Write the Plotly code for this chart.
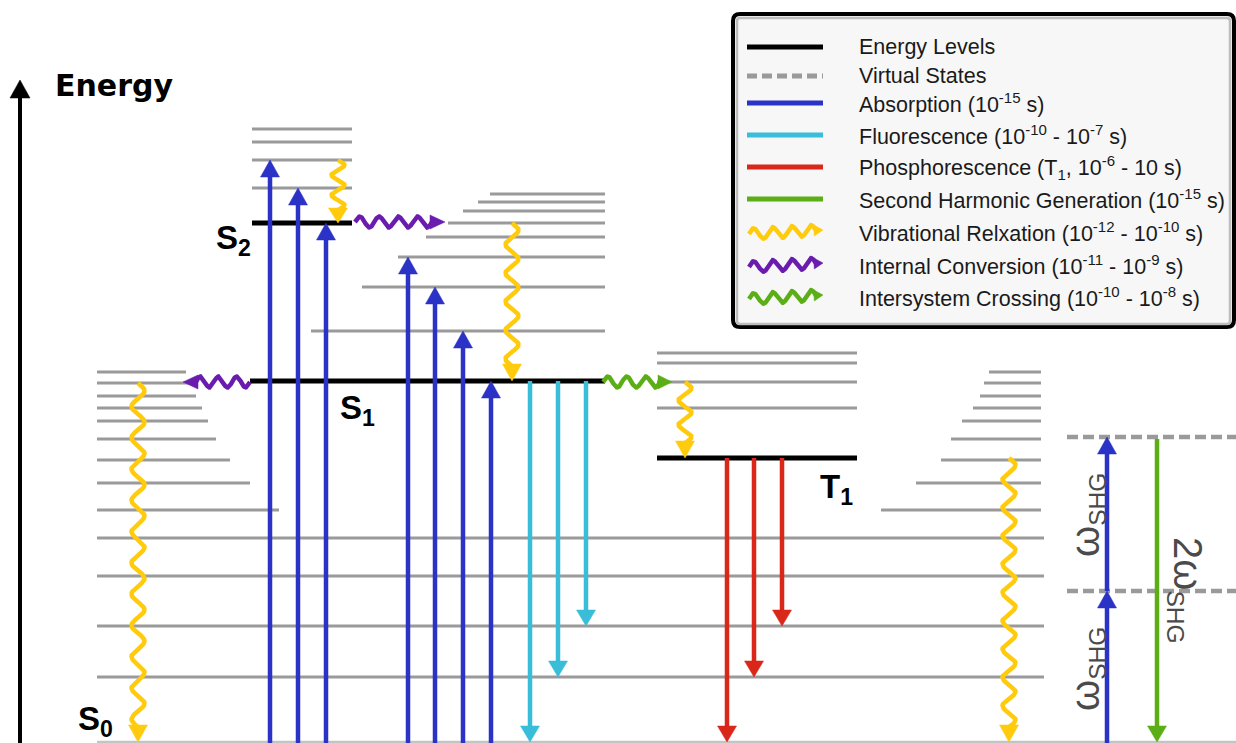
import numpy as np
import plotly.graph_objects as go

# ---------------------------------------------------------------------------
# Jablonski diagram: singlet / triplet manifolds, radiative and
# non-radiative transitions, plus second harmonic generation.
# Energies are in arbitrary units with the ground state at 0.
# ---------------------------------------------------------------------------

# electronic and vibrational levels
s0_levels = [0, 65, 116, 166, 204, 232, 259, 282, 303, 321, 334, 346, 359, 370]
s1_level = 361
s1_vibrational = [411, 455, 485, 505, 519, 531, 540, 548]
s2_level = 519
s2_vibrational = [554, 582, 600, 613]
t1_level = 284
t1_vibrational = [334, 360, 379, 389]
virtual_states = [151, 305]

# radiative transitions (target energies)
absorption_targets = [582, 554, 519, 485, 455, 411, 361]   # from S0
fluorescence_targets = [0, 65, 116]                          # from S1
phosphorescence_targets = [0, 65, 116]                       # from T1
shg_absorption_steps = [(0, 151), (151, 305)]
shg_emission = (305, 0)

# non-radiative transitions (start energy, end energy)
vibrational_relaxation = [(359, 0), (582, 519), (519, 361), (360, 284), (284, 0)]
internal_conversion = [(520, 520), (360, 360)]
intersystem_crossing = [(360, 360)]

legend_labels = [
    "Energy Levels",
    "Virtual States",
    "Absorption (10<sup>-15</sup> s)",
    "Fluorescence (10<sup>-10</sup> - 10<sup>-7</sup> s)",
    "Phosphorescence (T<sub>1</sub>, 10<sup>-6</sup> - 10 s)",
    "Second Harmonic Generation (10<sup>-15</sup> s)",
    "Vibrational Relxation (10<sup>-12</sup> - 10<sup>-10</sup> s)",
    "Internal Conversion (10<sup>-11</sup> - 10<sup>-9</sup> s)",
    "Intersystem Crossing (10<sup>-10</sup> - 10<sup>-8</sup> s)",
]

# ---------------------------------------------------------------------------
# layout of the drawing (horizontal placement, styles)
# ---------------------------------------------------------------------------
W, H = 1236, 743

BLACK = "#000000"
GRAY = "#9a9a9a"
BLUE = "#2B33C6"
CYAN = "#39BDD9"
RED = "#D9271A"
GREEN = "#5BAE16"
YELLOW = "#FFCB0C"
PURPLE = "#6A1CAE"
TEXT_GRAY = "#4a4a4a"
FONT = "Arial, Liberation Sans, sans-serif"

S0_X = (97, 1044)
S0_TAPER_LEFT = [279, 250, 230, 216, 208, 202, 196, 190, 186]    # right ends, left stack
S0_TAPER_RIGHT = [881, 916, 941, 951, 962, 973, 980, 984, 989]   # left ends, right stack
S0_TAPER_RIGHT_END = 1041
S1_X = (250, 605)
S1_VIB_LEFT = [311, 362, 398, 426, 448, 463, 478, 490]
S2_X = (252, 352)
T1_X = (657, 857)
VIRTUAL_X = (1067, W)

ABS_X = [270, 298, 326, 408, 435, 463, 491]
FLU_X = [530, 558, 586]
PHO_X = [727, 754, 782]
SHG_BLUE_X = 1107
SHG_GREEN_X = 1157
VR_X = [138, 338, 512, 685, 1009]
VR_PERIOD = [32, 22, 28, 27, 28]
IC_X = [(355, 445), (250, 183)]
ISC_X = [(603, 672)]

fig = go.Figure()


def seg(xs, ys, color, width, dash=None):
    fig.add_trace(go.Scatter(
        x=list(xs), y=list(ys), mode="lines",
        line=dict(color=color, width=width, dash=dash),
        hoverinfo="skip", showlegend=False))


def head(tx, ty, ux, uy, length, width, color):
    bx, by = tx - ux * length, ty - uy * length
    nx, ny = -uy, ux
    xs = [tx, bx + nx * width / 2, bx - nx * width / 2, tx]
    ys = [ty, by + ny * width / 2, by - ny * width / 2, ty]
    fig.add_trace(go.Scatter(
        x=xs, y=ys, mode="lines", fill="toself", fillcolor=color,
        line=dict(color=color, width=0.5), hoverinfo="skip", showlegend=False))


def arrow(x0, y0, x1, y1, color, width=4.5, hl=17, hw=19):
    L = np.hypot(x1 - x0, y1 - y0)
    ux, uy = (x1 - x0) / L, (y1 - y0) / L
    seg([x0, x1 - ux * (hl - 2)], [y0, y1 - uy * (hl - 2)], color, width)
    head(x1, y1, ux, uy, hl, hw, color)


def wave(x0, y0, x1, y1, color, period, amp, hl, hw, width=4.5):
    L = np.hypot(x1 - x0, y1 - y0)
    ux, uy = (x1 - x0) / L, (y1 - y0) / L
    nx, ny = -uy, ux
    lw = L - hl + 2
    halves = max(1, int(round(lw / (period / 2))))
    p = 2 * lw / halves
    t = np.linspace(0, lw, 260)
    s = amp * np.sin(2 * np.pi * t / p)
    seg(x0 + ux * t + nx * s, y0 + uy * t + ny * s, color, width)
    head(x1, y1, ux, uy, hl, hw, color)


# ---- energy axis --------------------------------------------------------
arrow(20, -3, 20, 662, BLACK, width=4, hl=18, hw=20)

# ---- S0 manifold ----------------------------------------------------------
seg([S0_X[0], W], [s0_levels[0]] * 2, "#c4c4c4", 2.5)
for e in s0_levels[1:5]:
    seg(S0_X, [e, e], GRAY, 3)
for e, xr, xl in zip(s0_levels[5:], S0_TAPER_LEFT, S0_TAPER_RIGHT):
    seg([S0_X[0], xr], [e, e], GRAY, 3)
    seg([xl, S0_TAPER_RIGHT_END], [e, e], GRAY, 3)

# ---- S1, S2, T1 manifolds -------------------------------------------------
for e, xl in zip(s1_vibrational, S1_VIB_LEFT):
    seg([xl, S1_X[1]], [e, e], GRAY, 3)
seg(S1_X, [s1_level] * 2, BLACK, 5)

for e in s2_vibrational:
    seg(S2_X, [e, e], GRAY, 3)
seg(S2_X, [s2_level] * 2, BLACK, 5)

for e in t1_vibrational:
    seg(T1_X, [e, e], GRAY, 3)
seg(T1_X, [t1_level] * 2, BLACK, 5)

for e in virtual_states:
    seg(VIRTUAL_X, [e, e], GRAY, 4.5, dash="11px,5px")

# ---- radiative transitions -----------------------------------------------
for x, e in zip(ABS_X, absorption_targets):
    arrow(x, -5, x, e, BLUE)
for x, e in zip(FLU_X, fluorescence_targets):
    arrow(x, s1_level, x, e, CYAN, hl=16)
for x, e in zip(PHO_X, phosphorescence_targets):
    arrow(x, t1_level, x, e, RED, hl=16)
for lo, hi in shg_absorption_steps:
    arrow(SHG_BLUE_X, lo - (5 if lo == 0 else 0), SHG_BLUE_X, hi, BLUE, hl=17, hw=19)
arrow(SHG_GREEN_X, shg_emission[0] - 2, SHG_GREEN_X, shg_emission[1], GREEN, hl=16, hw=19)

# ---- non-radiative transitions ---------------------------------------------
for x, (e0, e1), per in zip(VR_X, vibrational_relaxation, VR_PERIOD):
    hl = 15 if e0 - e1 < 70 else 17
    wave(x, e0, x, e1, YELLOW, per, 6.5, hl, 19)
for (xa, xb), (e0, e1) in zip(IC_X, internal_conversion):
    wave(xa, e0, xb, e1, PURPLE, 19, 5.5, 15, 14)
for (xa, xb), (e0, e1) in zip(ISC_X, intersystem_crossing):
    wave(xa, e0, xb, e1, GREEN, 18, 5.5, 14, 14)

# ---- state labels ----------------------------------------------------------
BIG_W = "<span style='font-size:40px'>ω</span>"
annotations = [
    dict(x=53, y=657, text="<b>Energy</b>", xanchor="left", yanchor="middle",
         font=dict(family="DejaVu Sans", size=30, color=BLACK)),
    dict(x=253, y=502, text="<b>S<sub>2</sub></b>", xanchor="right", yanchor="middle",
         font=dict(family=FONT, size=33, color=BLACK)),
    dict(x=338, y=332, text="<b>S<sub>1</sub></b>", xanchor="left", yanchor="middle",
         font=dict(family=FONT, size=33, color=BLACK)),
    dict(x=818, y=253, text="<b>T<sub>1</sub></b>", xanchor="left", yanchor="middle",
         font=dict(family=FONT, size=33, color=BLACK)),
    dict(x=76, y=21, text="<b>S<sub>0</sub></b>", xanchor="left", yanchor="middle",
         font=dict(family=FONT, size=33, color=BLACK)),
    dict(x=1087, y=227, text=BIG_W + "<sub>SHG</sub>", textangle=-90, xanchor="center",
         yanchor="middle", font=dict(family=FONT, size=35, color=TEXT_GRAY)),
    dict(x=1087, y=73, text=BIG_W + "<sub>SHG</sub>", textangle=-90, xanchor="center",
         yanchor="middle", font=dict(family=FONT, size=35, color=TEXT_GRAY)),
    dict(x=1186, y=152, text="<span style='font-size:40px'>2ω</span><sub>SHG</sub>",
         textangle=90, xanchor="center", yanchor="middle",
         font=dict(family=FONT, size=35, color=TEXT_GRAY)),
]

# ---- legend panel ------------------------------------------------------------
BOX = (733, 1234, 415, 728)   # x0, x1, y0, y1
ROWS = [695, 666, 639, 607, 575, 543, 510, 477, 445]
SAMPLE_X = (747, 823)
TEXT_X = 857


def rounded(x0, x1, y0, y1, r):
    return (f"M{x0+r},{y0} L{x1-r},{y0} Q{x1},{y0} {x1},{y0+r} "
            f"L{x1},{y1-r} Q{x1},{y1} {x1-r},{y1} L{x0+r},{y1} "
            f"Q{x0},{y1} {x0},{y1-r} L{x0},{y0+r} Q{x0},{y0} {x0+r},{y0} Z")


shapes = [
    dict(type="path", xref="x", yref="y", layer="below",
         path=rounded(BOX[0], BOX[1], BOX[2], BOX[3], 7),
         line=dict(color=BLACK, width=4), fillcolor="#f7f7f7"),
    dict(type="path", xref="x", yref="y", layer="below",
         path=rounded(BOX[0] + 4, BOX[1] - 4, BOX[2] + 3, BOX[3] - 4, 3),
         line=dict(color="#bdbdbd", width=2.5), fillcolor="rgba(0,0,0,0)"),
]

line_samples = [(BLACK, None), (GRAY, "10px,5px"), (BLUE, None), (CYAN, None),
                (RED, None), (GREEN, None)]
for (color, dash), y in zip(line_samples, ROWS[:6]):
    seg(SAMPLE_X, [y, y], color, 5, dash=dash)
for color, y in zip([YELLOW, PURPLE, GREEN], ROWS[6:]):
    wave(SAMPLE_X[0] + 2, y - 2, SAMPLE_X[1], y + 2, color, 20, 5.5, 9, 11, width=4.5)

for label, y in zip(legend_labels, ROWS):
    annotations.append(dict(x=TEXT_X, y=y, text=label, xanchor="left", yanchor="middle",
                            font=dict(family=FONT, size=21.5, color="#1a1a1a")))

for a in annotations:
    a.update(xref="x", yref="y", showarrow=False)

fig.update_layout(
    width=W, height=H,
    margin=dict(l=0, r=0, t=0, b=0),
    paper_bgcolor="white", plot_bgcolor="white",
    xaxis=dict(range=[0, W], visible=False, fixedrange=True),
    yaxis=dict(range=[-1, H - 1], visible=False, fixedrange=True),
    shapes=shapes, annotations=annotations,
    showlegend=False,
)

fig.write_html("out.html")
